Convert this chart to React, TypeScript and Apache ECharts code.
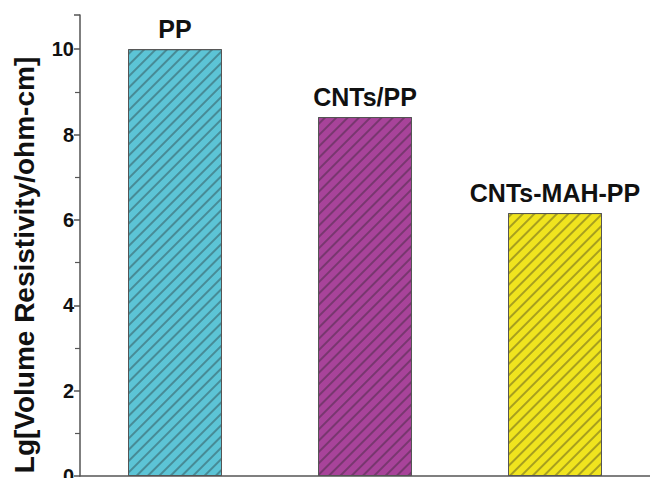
import React, { useEffect, useRef } from "react";
import * as echarts from "echarts";

const categories = ["PP", "CNTs/PP", "CNTs-MAH-PP"];
const values = [10.0, 8.41, 6.16];
const barColors = ["#5CC4D6", "#A8439A", "#F0E41E"];
const yTicks = [0, 2, 4, 6, 8, 10];
const yAxisTitle = "Lg[Volume Resistivity/ohm-cm]";

export default function App() {
  const ref = useRef<HTMLDivElement>(null);
  useEffect(() => {
    if (!ref.current) return;
    const chart = echarts.init(ref.current, null, { renderer: "svg" });
    const font = "'Liberation Sans', Arial, sans-serif";
    chart.setOption({
      animation: false,
      grid: { left: 80, right: 0, top: 15, bottom: 2, containLabel: false, outerBoundsMode: "none" },
      xAxis: {
        type: "category",
        data: categories,
        axisTick: { show: false },
        axisLabel: { show: false },
        axisLine: { lineStyle: { color: "#555", width: 1.5 } },
      },
      yAxis: {
        type: "value",
        min: 0,
        max: 10.8,
        interval: 2,
        splitLine: { show: false },
        axisLine: { show: true, lineStyle: { color: "#555", width: 1.5 } },
        axisTick: { show: true, length: 6, lineStyle: { color: "#555", width: 1.5 } },
        minorTick: { show: true, splitNumber: 2, length: 5, lineStyle: { color: "#555", width: 1.2 } },
        axisLabel: {
          color: "#111",
          fontSize: 20,
          fontWeight: "bold",
          fontFamily: font,
          margin: 6,
          formatter: (v: number) => (yTicks.includes(v) ? String(v) : ""),
        },
      },
      graphic: [
        {
          type: "text",
          x: 24,
          y: 265,
          rotation: Math.PI / 2,
          style: {
            text: yAxisTitle,
            fontSize: 28,
            fontWeight: "bold",
            fontFamily: font,
            fill: "#111",
            align: "center",
            verticalAlign: "middle",
          },
        },
      ],
      series: [
        {
          type: "bar",
          barWidth: 94,
          data: values.map((v, i) => ({
            value: v,
            itemStyle: {
              color: barColors[i],
              borderColor: "#555",
              borderWidth: 1,
              decal: {
                symbol: "rect",
                color: "rgba(30,30,30,0.35)",
                dashArrayX: [1, 0],
                dashArrayY: [1.2, 5.8],
                rotation: -Math.PI / 4,
              },
            },
          })),
          label: {
            show: true,
            position: "top",
            distance: 8,
            formatter: (p: any) => categories[p.dataIndex],
            fontSize: 25,
            fontWeight: "bold",
            fontFamily: font,
            color: "#111",
          },
        },
      ],
    });
    return () => chart.dispose();
  }, []);
  return <div ref={ref} style={{ width: 650, height: 478, position: "absolute", left: 0, top: 0 }} />;
}
